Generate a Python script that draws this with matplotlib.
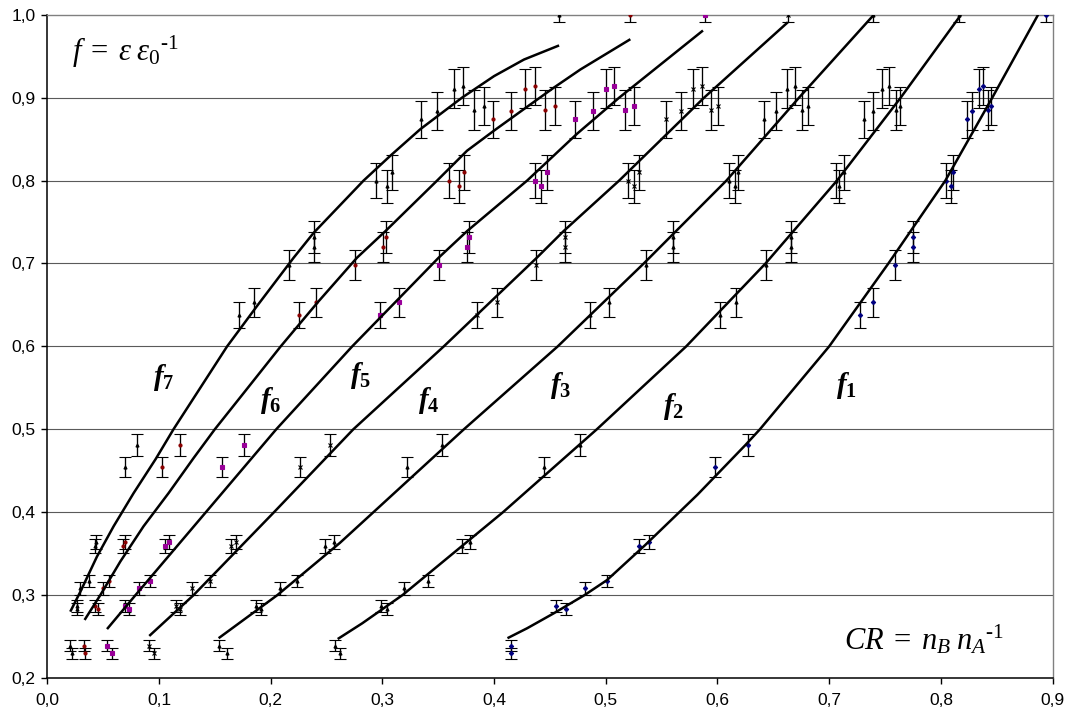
import matplotlib
matplotlib.use("Agg")
import matplotlib.pyplot as plt
from matplotlib.ticker import FixedLocator, FuncFormatter

plt.rcParams['font.family'] = ['Liberation Sans', 'DejaVu Sans']
plt.rcParams['mathtext.fontset'] = 'custom'
plt.rcParams['mathtext.rm'] = 'Liberation Serif'
plt.rcParams['mathtext.it'] = 'Liberation Serif:italic'
plt.rcParams['mathtext.bf'] = 'Liberation Serif:bold'
plt.rcParams['mathtext.bfit'] = 'Liberation Serif:italic:bold'

# ---- measured points: f values (shared by all series) and their uncertainties ----
f_meas = [0.239, 0.230, 0.287, 0.283, 0.308, 0.317, 0.359, 0.364, 0.455, 0.481,
          0.638, 0.653, 0.698, 0.720, 0.732, 0.800, 0.793, 0.810, 0.874, 0.884,
          0.911, 0.914, 0.885, 0.890, 1.000]
f_err = [0.0065, 0.0065, 0.0075, 0.0075, 0.0075, 0.0078, 0.0085, 0.0085, 0.012, 0.013,
         0.016, 0.0175, 0.018, 0.018, 0.019, 0.021, 0.020, 0.021, 0.0225, 0.0225,
         0.023, 0.023, 0.024, 0.023, 0.0085]

# CR of each measured point, per series
cr_f1 = [0.4155, 0.4155, 0.4558, 0.4648, 0.481, 0.501, 0.530, 0.5385, 0.598, 0.627,
         0.7274, 0.7394, 0.7585, 0.775, 0.775, 0.805, 0.8087, 0.811, 0.823, 0.828,
         0.834, 0.838, 0.842, 0.8445, 0.8937]
cr_f2 = [0.258, 0.2624, 0.299, 0.304, 0.319, 0.3406, 0.3713, 0.378, 0.4445, 0.4767,
         0.602, 0.617, 0.643, 0.6654, 0.6654, 0.706, 0.709, 0.7137, 0.7316, 0.7388,
         0.7469, 0.7534, 0.7594, 0.763, 0.816]
cr_f3 = [0.154, 0.161, 0.1872, 0.1913, 0.208, 0.2236, 0.249, 0.2564, 0.322, 0.353,
         0.486, 0.503, 0.5364, 0.5603, 0.5603, 0.610, 0.6155, 0.618, 0.6415, 0.652,
         0.6618, 0.669, 0.6758, 0.6809, 0.739]
cr_f4 = [0.0913, 0.0958, 0.1155, 0.1185, 0.1296, 0.1454, 0.1645, 0.1692, 0.2265, 0.2528,
         0.385, 0.4027, 0.4379, 0.4633, 0.4639, 0.5197, 0.525, 0.5295, 0.5543, 0.5669,
         0.5779, 0.5863, 0.5946, 0.6006, 0.663]
cr_f5 = [0.0535, 0.058, 0.070, 0.0734, 0.0818, 0.0916, 0.105, 0.109, 0.156, 0.176,
         0.2982, 0.3152, 0.3504, 0.3758, 0.3773, 0.437, 0.4424, 0.4475, 0.4728, 0.4883,
         0.5003, 0.5077, 0.517, 0.525, 0.589]
cr_f6 = [0.0331, 0.034, 0.043, 0.045, 0.0499, 0.055, 0.0675, 0.0698, 0.103, 0.119,
         0.2257, 0.2409, 0.2758, 0.301, 0.3036, 0.3594, 0.3684, 0.3728, 0.3991, 0.4152,
         0.428, 0.4364, 0.446, 0.4549, 0.5215]
cr_f7 = [0.0206, 0.0221, 0.0266, 0.027, 0.0296, 0.037, 0.0424, 0.0439, 0.070, 0.080,
         0.1713, 0.1854, 0.2161, 0.2385, 0.2385, 0.2946, 0.3042, 0.3087, 0.3349, 0.349,
         0.3638, 0.3722, 0.3818, 0.3913, 0.458]

# ---- model curves f(CR) ----
curve_f1_cr = [0.412, 0.4296, 0.4534, 0.481, 0.501, 0.535, 0.582, 0.625, 0.638,
               0.700, 0.753, 0.804, 0.846, 0.887]
curve_f1_f = [0.248, 0.260, 0.278, 0.300, 0.318, 0.360, 0.421, 0.481, 0.500,
              0.600, 0.700, 0.800, 0.900, 1.000]
curve_f2_cr = [0.260, 0.282, 0.318, 0.372, 0.408, 0.492, 0.572, 0.643,
               0.707, 0.764, 0.818]
curve_f2_f = [0.247, 0.266, 0.300, 0.360, 0.400, 0.500, 0.600, 0.700,
              0.800, 0.900, 1.000]
curve_f3_cr = [0.1534, 0.206, 0.262, 0.292, 0.373, 0.457, 0.534, 0.608, 0.673, 0.740]
curve_f3_f = [0.248, 0.300, 0.363, 0.400, 0.500, 0.600, 0.700, 0.800, 0.900, 1.000]
curve_f4_cr = [0.0913, 0.131, 0.203, 0.274, 0.355, 0.4383, 0.4622, 0.512, 0.588, 0.663]
curve_f4_f = [0.2507, 0.300, 0.400, 0.500, 0.600, 0.707, 0.739, 0.800, 0.900, 0.991]
curve_f5_cr = [0.0535, 0.079, 0.142, 0.205, 0.273, 0.3504, 0.3758, 0.4296, 0.4743,
               0.512, 0.587]
curve_f5_f = [0.259, 0.300, 0.400, 0.500, 0.600, 0.707, 0.739, 0.800, 0.8565,
              0.900, 0.981]
curve_f6_cr = [0.0334, 0.0475, 0.0654, 0.0862, 0.1086, 0.131, 0.150, 0.176, 0.209,
               0.242, 0.2773, 0.3027, 0.349, 0.3758, 0.3997, 0.4296, 0.4534, 0.4773,
               0.522]
curve_f6_f = [0.270, 0.300, 0.3405, 0.383, 0.423, 0.4653, 0.500, 0.544, 0.600,
              0.653, 0.707, 0.739, 0.800, 0.836, 0.860, 0.889, 0.912, 0.934,
              0.9705]
curve_f7_cr = [0.0206, 0.0296, 0.0445, 0.0594, 0.0773, 0.097, 0.113, 0.137, 0.161,
               0.1885, 0.2206, 0.2385, 0.2832, 0.3072, 0.334, 0.3713, 0.400, 0.4268,
               0.4582]
curve_f7_f = [0.280, 0.304, 0.3465, 0.383, 0.423, 0.464, 0.500, 0.550, 0.600,
              0.650, 0.707, 0.737, 0.800, 0.830, 0.862, 0.900, 0.926, 0.946,
              0.963]

series_names = ['1', '2', '3', '4', '5', '6', '7']
point_cr = [cr_f1, cr_f2, cr_f3, cr_f4, cr_f5, cr_f6, cr_f7]
curve_cr = [curve_f1_cr, curve_f2_cr, curve_f3_cr, curve_f4_cr, curve_f5_cr, curve_f6_cr, curve_f7_cr]
curve_f = [curve_f1_f, curve_f2_f, curve_f3_f, curve_f4_f, curve_f5_f, curve_f6_f, curve_f7_f]
point_colors = ['#000080', 'black', 'black', 'black', '#990099', '#8b0000', 'black']
point_markers = ['D', '^', '^', 'x', 's', 'o', '^']

# label anchor (CR, f) for each curve name
label_cr = [0.706, 0.551, 0.450, 0.332, 0.271, 0.190, 0.095]
label_f = [0.553, 0.528, 0.553, 0.535, 0.565, 0.535, 0.562]

x_ticks = [0.0, 0.1, 0.2, 0.3, 0.4, 0.5, 0.6, 0.7, 0.8, 0.9]
y_ticks = [0.2, 0.3, 0.4, 0.5, 0.6, 0.7, 0.8, 0.9, 1.0]

fig = plt.figure(figsize=(10.67, 7.13), dpi=100)
ax = fig.add_axes([0.0443, 0.0491, 0.9422, 0.9302])

# horizontal grid
for yv in y_ticks[1:-1]:
    ax.axhline(yv, color='#5a5a5a', lw=0.8, zorder=0)

for i in range(len(series_names)):
    ax.errorbar(point_cr[i], f_meas, yerr=f_err, fmt=point_markers[i],
                color=point_colors[i], ms=2.2, mew=0.8,
                ecolor='black', elinewidth=0.95, capsize=4.2, capthick=0.95,
                zorder=3, clip_on=True)
    ax.plot(curve_cr[i], curve_f[i], color='black', lw=1.8, zorder=4,
            solid_joinstyle='round', solid_capstyle='butt')
    ax.text(label_cr[i], label_f[i],
            r'$\mathbfit{f}_{\mathbf{%s}}$' % series_names[i],
            fontsize=21, ha='left', va='center', zorder=5)

ax.text(0.0225, 0.944,
        '$f\\;=\\;\\varepsilon\\;\\varepsilon_{\\mathit{0}}{}^{\\mathit{\u20101}}$',
        fontsize=22, ha='left', va='baseline')
ax.text(0.713, 0.234, '$CR\\;=\\;n_B\\;n_A{}^{\\mathit{\u20101}}$',
        fontsize=22, ha='left', va='baseline')

ax.set_xlim(0.0, 0.9)
ax.set_ylim(0.2, 1.0)
ax.xaxis.set_major_locator(FixedLocator(x_ticks))
ax.yaxis.set_major_locator(FixedLocator(y_ticks))
comma = FuncFormatter(lambda v, p: ('%.1f' % v).replace('.', ','))
ax.xaxis.set_major_formatter(comma)
ax.yaxis.set_major_formatter(comma)
ax.tick_params(axis='both', direction='out', length=4.5, width=1.0,
               labelsize=12.5, colors='black')
ax.tick_params(axis='x', pad=6)
ax.tick_params(axis='y', pad=4)

for side in ('left', 'bottom'):
    ax.spines[side].set_color('black')
    ax.spines[side].set_linewidth(1.1)
for side in ('top', 'right'):
    ax.spines[side].set_color('#808080')
    ax.spines[side].set_linewidth(1.0)

fig.savefig('out.png', dpi=100)
